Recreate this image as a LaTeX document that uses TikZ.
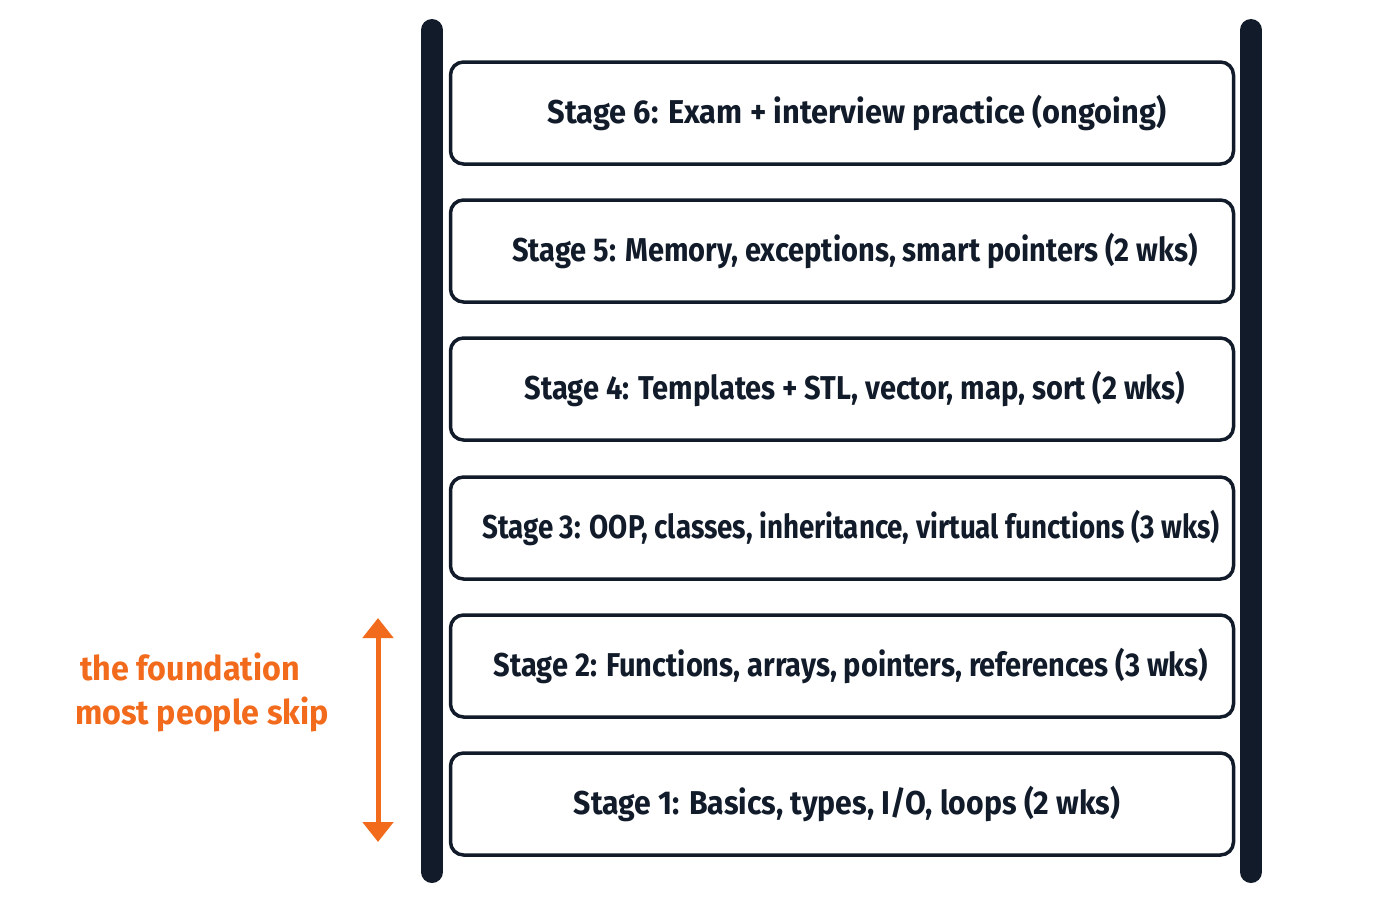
\documentclass[tikz,border=0pt]{standalone}
\usepackage{fontspec}
\setmainfont{Fira Sans}[FakeStretch=0.88]
\newfontfamily\notefont{Fira Sans}[FakeStretch=0.95]
\usetikzlibrary{arrows.meta}
\definecolor{ink}{HTML}{111B2A}
\definecolor{accent}{HTML}{F26A1B}
\begin{document}
\begin{tikzpicture}[x={(1pt,0)},y={(0,-1pt)},
  rail/.style={line width=22pt,line cap=round,draw=ink},
  stage/.style={draw=ink,line width=3.5pt,rounded corners=13pt,minimum width=783pt,minimum height=102pt,font=\fontsize{33}{38}\selectfont\bfseries,text=ink,inner sep=0pt},
  note/.style={text=accent,font=\notefont\fontsize{34}{44}\selectfont\bfseries,align=left}]
\useasboundingbox (0,0) rectangle (1400,900);
\coordinate (lt) at (432,30); \coordinate (lb) at (432,872);
\coordinate (rt) at (1251,30); \coordinate (rb) at (1251,872);
\draw[rail] (lt) -- (lb);
\draw[rail] (rt) -- (rb);
\node[stage] (s6) at (842,113) {\hbox to 770pt{\hfil\hspace{30pt}\scalebox{1.06}[1]{Stage 6: Exam + interview practice (ongoing)}\hfil}};
\node[stage] (s5) at (842,251) {\hbox to 770pt{\hfil\hspace{26pt}Stage 5: Memory, exceptions, smart pointers (2 wks)\hfil}};
\node[stage] (s4) at (842,389) {\hbox to 770pt{\hfil\hspace{26pt}Stage 4: Templates + STL, vector, map, sort (2 wks)\hfil}};
\node[stage] (s3) at (842,528) {\hbox to 770pt{\hfil\hspace{18pt}\scalebox{0.955}[1]{Stage 3: OOP, classes, inheritance, virtual functions (3 wks)}\hfil}};
\node[stage] (s2) at (842,666) {\hbox to 770pt{\hfil\hspace{18pt}Stage 2: Functions, arrays, pointers, references (3 wks)\hfil}};
\node[stage] (s1) at (842,804) {\hbox to 770pt{\hfil\hspace{10pt}\scalebox{1.04}[1]{Stage 1: Basics, types, I/O, loops (2 wks)}\hfil}};
\coordinate (at) at (378,618); \coordinate (ab) at (378,842);
\draw[accent,line width=5pt,{Triangle[length=20pt,width=30pt]}-{Triangle[length=20pt,width=30pt]}] (at) -- (ab);
\node[note] (n) at (202,692) {\hspace*{5pt}the foundation\\most people skip};
\end{tikzpicture}
\end{document}
